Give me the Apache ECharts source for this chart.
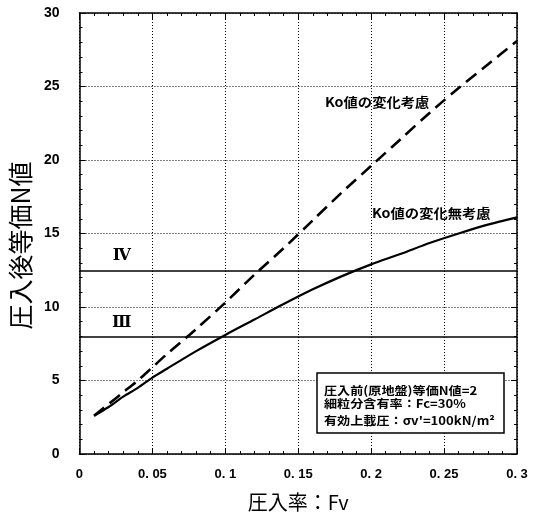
<!DOCTYPE html>
<html>
<head>
<meta charset="utf-8">
<script src="https://cdn.jsdelivr.net/npm/echarts@6/dist/echarts.min.js"></script>
<style>
  html, body { margin: 0; padding: 0; background: #fff; }
  #chart { width: 539px; height: 518px; }
</style>
</head>
<body>
<div id="chart"></div>
<script>
// Press-in ratio Fv (x) and the resulting equivalent N value (y)
const fv = [0.01, 0.02, 0.03, 0.04, 0.05, 0.06, 0.08, 0.10, 0.12, 0.14, 0.16, 0.18, 0.20, 0.22, 0.24, 0.26, 0.28, 0.30];
// Ko change considered (dashed)
const nWithKo = [2.6, 3.4, 4.2, 5.0, 5.9, 6.8, 8.5, 10.3, 12.2, 14.0, 15.9, 17.8, 19.6, 21.4, 23.2, 24.9, 26.5, 28.1];
// Ko change not considered (solid)
const nWithoutKo = [2.6, 3.2, 3.9, 4.5, 5.2, 5.8, 7.0, 8.1, 9.15, 10.2, 11.2, 12.1, 12.9, 13.6, 14.35, 15.0, 15.6, 16.1];

// Reference levels drawn as horizontal lines
const classLevels = [8, 12.5];
const classNames = ['Ⅲ', 'Ⅳ'];

// Axis ticks
const xTicks = [0, 0.05, 0.1, 0.15, 0.2, 0.25, 0.3];
const xTickLabels = ['0', '0. 05', '0. 1', '0. 15', '0. 2', '0. 25', '0. 3'];
const yTicks = [0, 5, 10, 15, 20, 25, 30];
const yTickLabels = ['0', '5', '10', '15', '20', '25', '30'];

const seriesNames = ['Ko値の変化考慮', 'Ko値の変化無考慮'];
const conditionLines = ['圧入前(原地盤)等価N値=2', '細粒分含有率：Fc=30%', '有効上載圧：σv\'=100kN/m²'];

const tickFont = 'Liberation Sans Narrow, Arial Narrow, Liberation Sans, sans-serif';
const jpFont = 'Noto Sans CJK JP, sans-serif';

function pairs(xs, ys) { return xs.map((x, i) => [x, ys[i]]); }
function labelFor(ticks, labels) {
  return v => {
    const i = ticks.findIndex(t => Math.abs(t - v) < 1e-9);
    return i >= 0 ? labels[i] : '';
  };
}

const frameAxis = {
  axisLine: { show: true, onZero: false, lineStyle: { color: '#000', width: 1.5 } },
  axisTick: { show: true, inside: true, length: 6, lineStyle: { color: '#000', width: 1 } },
  minorTick: { show: true, splitNumber: 5, length: 3, lineStyle: { color: '#000', width: 1 } },
  axisLabel: { show: false },
  splitLine: { show: false }
};

const chart = echarts.init(document.getElementById('chart'), null, { renderer: 'canvas' });

const option = {
  animation: false,
  backgroundColor: '#fff',
  grid: { left: 77, right: 22, top: 13, bottom: 64 },
  xAxis: [
    {
      type: 'value', min: 0, max: 0.3, interval: 0.05, position: 'bottom',
      name: '圧入率：Fv', nameLocation: 'middle', nameGap: 38,
      nameTextStyle: { fontFamily: jpFont, fontSize: 20, color: '#000' },
      axisLine: { show: true, onZero: false, lineStyle: { color: '#000', width: 1.5 } },
      axisTick: { show: true, inside: true, length: 6, lineStyle: { color: '#000', width: 1 } },
      minorTick: { show: true, splitNumber: 5, length: 3, lineStyle: { color: '#000', width: 1 } },
      axisLabel: { show: true, margin: 14, color: '#000', fontFamily: tickFont, fontWeight: 'bold', fontSize: 13,
        formatter: labelFor(xTicks, xTickLabels) },
      splitLine: { show: true, lineStyle: { color: '#000', width: 1, type: [1, 2] } }
    },
    Object.assign({ type: 'value', min: 0, max: 0.3, interval: 0.05, position: 'top' }, frameAxis)
  ],
  yAxis: [
    {
      type: 'value', min: 0, max: 30, interval: 5, position: 'left',
      name: '圧入後等価N値', nameLocation: 'middle', nameGap: 40, nameRotate: 90,
      nameTextStyle: { fontFamily: jpFont, fontSize: 25, color: '#000', padding: [0, 24, 0, 0] },
      axisLine: { show: true, onZero: false, lineStyle: { color: '#000', width: 1.5 } },
      axisTick: { show: true, inside: true, length: 6, lineStyle: { color: '#000', width: 1 } },
      minorTick: { show: true, splitNumber: 5, length: 3, lineStyle: { color: '#000', width: 1 } },
      axisLabel: { show: true, margin: 20, color: '#000', fontFamily: tickFont, fontWeight: 'bold', fontSize: 14,
        formatter: labelFor(yTicks, yTickLabels) },
      splitLine: { show: true, lineStyle: { color: '#000', width: 1, type: [1, 2] } }
    },
    Object.assign({ type: 'value', min: 0, max: 30, interval: 5, position: 'right' }, frameAxis)
  ],
  series: [
    {
      name: seriesNames[0], type: 'line', xAxisIndex: 0, yAxisIndex: 0,
      data: pairs(fv, nWithKo), smooth: 0.3, showSymbol: false, symbol: 'none',
      lineStyle: { color: '#000', width: 2.6, type: [13, 7] }, z: 5
    },
    {
      name: seriesNames[1], type: 'line', xAxisIndex: 0, yAxisIndex: 0,
      data: pairs(fv, nWithoutKo), smooth: 0.3, showSymbol: false, symbol: 'none',
      lineStyle: { color: '#000', width: 2.2 }, z: 5,
      markLine: {
        silent: true, symbol: ['none', 'none'], animation: false,
        label: { show: false },
        lineStyle: { color: '#000', width: 1.5, type: 'solid' },
        data: classLevels.map(v => ({ yAxis: v }))
      }
    }
  ]
};

chart.setOption(option);

// Text annotations: level numerals, curve names and the condition box
const graphics = [];
classLevels.forEach((lv, i) => {
  const p = chart.convertToPixel({ xAxisIndex: 0, yAxisIndex: 0 }, [0.029, lv]);
  graphics.push({
    type: 'text', x: p[0], y: p[1] - 14, z: 100,
    style: { text: classNames[i], fill: '#000', font: 'bold 16px DejaVu Serif, Liberation Serif, serif',
      align: 'center', verticalAlign: 'middle' }
  });
});

const curveLabel = (text, x, y) => ({
  type: 'text', x: x, y: y, scaleX: 1.1, z: 100,
  style: { text: text, fill: '#000', font: 'bold 13px ' + jpFont, align: 'left', verticalAlign: 'middle' }
});
graphics.push(curveLabel(seriesNames[0], 325, 102));
graphics.push(curveLabel(seriesNames[1], 372, 213));

graphics.push({
  type: 'rect', z: 100,
  shape: { x: 317, y: 373, width: 187, height: 60 },
  style: { fill: '#fff', stroke: '#000', lineWidth: 1.5 }
});
[391, 404, 421].forEach((y, i) => {
  graphics.push({
    type: 'text', x: 324, y: y, scaleX: 1.14, z: 101,
    style: { text: conditionLines[i], fill: '#000', font: 'bold 11.5px ' + jpFont, align: 'left', verticalAlign: 'middle' }
  });
});

chart.setOption({ graphic: graphics });
</script>
</body>
</html>
